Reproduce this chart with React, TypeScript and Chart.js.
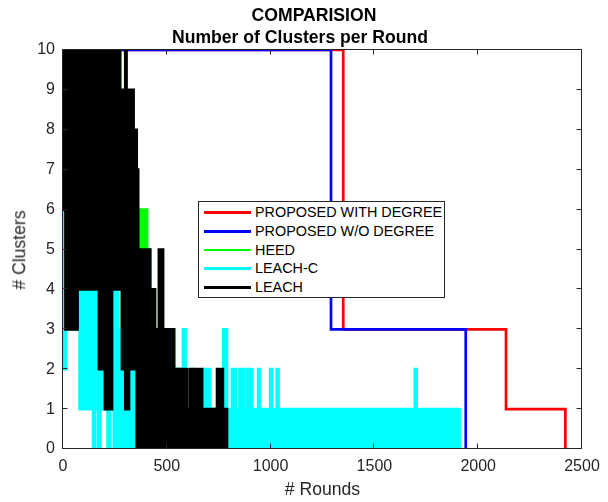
import React, { useEffect, useRef } from "react";
import { Chart, registerables } from "chart.js";

Chart.register(...registerables);

const FONT = "'Liberation Sans', Arial, Helvetica, sans-serif";
const AXIS_COLOR = "#262626";

const titleLines = ["COMPARISION", "Number of Clusters per Round"];
const xAxisLabel = "# Rounds";
const yAxisLabel = "# Clusters";

const xTickValues = [0, 500, 1000, 1500, 2000, 2500];
const yTickValues = [0, 1, 2, 3, 4, 5, 6, 7, 8, 9, 10];

const seriesNames = ["PROPOSED WITH DEGREE", "PROPOSED W/O DEGREE", "HEED", "LEACH-C", "LEACH"];
const seriesColors = ["#ff0000", "#0000ff", "#00ff00", "#00ffff", "#000000"];

// PROPOSED WITH DEGREE: value holds from the given round onward
const withDegreeRounds = [0, 1350, 2134, 2420];
const withDegreeClusters = [10, 3, 1, 0];

// PROPOSED W/O DEGREE
const withoutDegreeRounds = [0, 1291, 1940];
const withoutDegreeClusters = [10, 3, 0];

// HEED: per-round range (upper / lower values of the oscillation)
const heedRounds = [0, 12, 70, 170, 236, 275, 284, 340, 355, 362, 405, 420, 443, 535, 580, 780];
const heedMax = [10, 10, 10, 10, 10, 8, 8, 7, 6, 6, 5, 4, 3, 2, 1, 0];
const heedMin = [6, 3, 4, 2, 4, 4, 2, 2, 0, 0, 0, 0, 0, 0, 0, 0];

// LEACH-C
const leachCRounds = [
  0, 8, 15, 80, 145, 155, 170, 180, 215, 225, 245, 266, 284, 578, 590, 622, 628, 675, 685, 698,
  708, 772, 790, 814, 820, 826, 832, 850, 856, 868, 874, 888, 894, 906, 912, 940, 948, 998, 1006,
  1030, 1038, 1695, 1703, 1910,
];
const leachCMax = [
  7, 6, 5, 5, 5, 5, 5, 5, 4, 4, 4, 3, 2, 3, 1, 2, 1, 2, 1, 2,
  1, 3, 1, 2, 1, 2, 1, 2, 1, 2, 1, 2, 1, 2, 1, 2, 1, 2, 1,
  2, 1, 2, 1, 0,
];
const leachCMin = [
  2, 2, 3, 1, 0, 1, 0, 1, 0, 1, 0, 0, 0, 0, 0, 0, 0, 0, 0, 0,
  0, 0, 0, 0, 0, 0, 0, 0, 0, 0, 0, 0, 0, 0, 0, 0, 0, 0, 0,
  0, 0, 0, 0, 0,
];

// LEACH
const leachRounds = [
  0, 12, 70, 173, 193, 202, 217, 226, 236, 275, 284, 295, 300, 306, 318, 340, 355, 362, 420, 443,
  462, 482, 535, 580, 588, 598, 612, 622, 635, 670, 742, 770, 790,
];
const leachMax = [
  10, 10, 10, 10, 10, 10, 10, 10, 10, 9, 9, 9, 10, 9, 9, 8, 7, 5, 4, 3,
  5, 3, 2, 1, 2, 1, 2, 1, 2, 1, 2, 1, 0,
];
const leachMin = [
  6, 3, 4, 2, 4, 1, 4, 1, 4, 4, 2, 2, 1, 1, 2, 2, 0, 0, 0, 0,
  0, 0, 0, 0, 0, 0, 0, 0, 0, 0, 0, 0, 0,
];

const LINE_W = 2.7;

const pts = (xs: number[], ys: number[]) => xs.map((x, i) => ({ x, y: ys[i] }));

const makeLine = (label: string, color: string, data: any[], order: number, extra: any = {}) => ({
  label,
  data,
  borderColor: color,
  backgroundColor: color,
  borderWidth: LINE_W,
  pointRadius: 0,
  pointHoverRadius: 0,
  stepped: true,
  fill: false,
  order,
  ...extra,
});

const decorPlugin = {
  id: "matlabDecor",
  afterDraw(chart: any) {
    const ctx = chart.ctx;
    const { left, right, top, bottom } = chart.chartArea;
    const xs = chart.scales.x;
    const ys = chart.scales.y;
    ctx.save();
    ctx.strokeStyle = AXIS_COLOR;
    ctx.lineWidth = 1;
    ctx.beginPath();
    ctx.moveTo(left - 0.5, top - 0.5);
    ctx.lineTo(right - 0.5, top - 0.5);
    ctx.lineTo(right - 0.5, bottom - 0.5);
    ctx.lineTo(left - 0.5, bottom - 0.5);
    ctx.closePath();
    ctx.stroke();
    const tl = 5;
    ctx.beginPath();
    xTickValues.forEach((v) => {
      const px = Math.round(xs.getPixelForValue(v)) - 0.5;
      ctx.moveTo(px, bottom - 0.5);
      ctx.lineTo(px, bottom - 0.5 - tl);
      ctx.moveTo(px, top - 0.5);
      ctx.lineTo(px, top - 0.5 + tl);
    });
    yTickValues.forEach((v) => {
      const py = Math.round(ys.getPixelForValue(v)) - 0.5;
      ctx.moveTo(left - 0.5, py);
      ctx.lineTo(left - 0.5 + tl, py);
      ctx.moveTo(right - 0.5, py);
      ctx.lineTo(right - 0.5 - tl, py);
    });
    ctx.stroke();
    ctx.restore();
  },
};

export default function App() {
  const canvasRef = useRef<HTMLCanvasElement | null>(null);

  useEffect(() => {
    const datasets = [
      makeLine(seriesNames[0], seriesColors[0], pts(withDegreeRounds, withDegreeClusters), 4),
      makeLine(seriesNames[1], seriesColors[1], pts(withoutDegreeRounds, withoutDegreeClusters), 3),
      makeLine(seriesNames[2], seriesColors[2], pts(heedRounds, heedMax), 2, { fill: "+1" }),
      makeLine(seriesNames[2] + " low", seriesColors[2], pts(heedRounds, heedMin), 2),
      makeLine(seriesNames[3], seriesColors[3], pts(leachCRounds, leachCMax), 1, { fill: "+1" }),
      makeLine(seriesNames[3] + " low", seriesColors[3], pts(leachCRounds, leachCMin), 1),
      makeLine(seriesNames[4], seriesColors[4], pts(leachRounds, leachMax), 0, { fill: "+1" }),
      makeLine(seriesNames[4] + " low", seriesColors[4], pts(leachRounds, leachMin), 0),
    ];
    const chart = new Chart(canvasRef.current as HTMLCanvasElement, {
      type: "line",
      data: { datasets } as any,
      options: {
        animation: false,
        responsive: false,
        devicePixelRatio: 1,
        events: [],
        layout: { padding: { left: 0, top: 50, right: 26, bottom: 0 } },
        plugins: {
          legend: { display: false },
          title: { display: false },
          tooltip: { enabled: false },
        },
        scales: {
          x: {
            type: "linear",
            min: 0,
            max: 2500,
            afterBuildTicks: (s: any) => {
              s.ticks = xTickValues.map((value) => ({ value }));
            },
            afterFit: (s: any) => {
              s.height = 53;
            },
            ticks: {
              autoSkip: false,
              maxRotation: 0,
              minRotation: 0,
              padding: 8,
              color: AXIS_COLOR,
              font: { family: FONT, size: 16 },
              callback: (v: any) => String(v),
            },
            grid: { display: false, drawTicks: false },
            border: { display: false },
          },
          y: {
            type: "linear",
            min: 0,
            max: 10,
            afterBuildTicks: (s: any) => {
              s.ticks = yTickValues.map((value) => ({ value }));
            },
            afterFit: (s: any) => {
              s.width = 63;
            },
            ticks: {
              autoSkip: false,
              padding: 8,
              color: AXIS_COLOR,
              font: { family: FONT, size: 16 },
              callback: (v: any) => String(v),
            },
            grid: { display: false, drawTicks: false },
            border: { display: false },
          },
        },
      } as any,
      plugins: [decorPlugin],
    });
    return () => chart.destroy();
  }, []);

  const textBase: React.CSSProperties = {
    position: "absolute",
    fontFamily: FONT,
    lineHeight: 1,
    whiteSpace: "nowrap",
  };

  return (
    <div style={{ position: "fixed", left: 0, top: 0, width: 608, height: 502, background: "#fff" }}>
      <canvas ref={canvasRef} width={608} height={502} style={{ position: "absolute", left: 0, top: 0, width: 608, height: 502 }} />
      <div style={{ ...textBase, left: 114, width: 400, top: 7, textAlign: "center", fontSize: 17.6, fontWeight: "bold", color: "#000" }}>
        {titleLines[0]}
      </div>
      <div style={{ ...textBase, left: 100, width: 400, top: 29, textAlign: "center", fontSize: 17.6, fontWeight: "bold", color: "#000" }}>
        {titleLines[1]}
      </div>
      <div style={{ ...textBase, left: 122.5, width: 400, top: 481, textAlign: "center", fontSize: 17.6, color: AXIS_COLOR }}>
        {xAxisLabel}
      </div>
      <div
        style={{
          ...textBase,
          left: 20,
          top: 249.5,
          fontSize: 17.6,
          color: AXIS_COLOR,
          transform: "translate(-50%, -50%) rotate(-90deg)",
        }}
      >
        {yAxisLabel}
      </div>
      <div
        style={{
          position: "absolute",
          left: 198,
          top: 201,
          width: 247,
          height: 97,
          boxSizing: "border-box",
          border: `1px solid ${AXIS_COLOR}`,
          background: "#fff",
        }}
      >
        {seriesNames.map((name, i) => (
          <div key={name} style={{ position: "absolute", left: 0, top: 1.1 + i * 18.75, height: 18.75, width: 245 }}>
            <div
              style={{
                position: "absolute",
                left: 4.5,
                width: 47,
                top: 9.375 - LINE_W / 2,
                height: LINE_W,
                background: seriesColors[i],
              }}
            />
            <div
              style={{
                position: "absolute",
                left: 56,
                top: 0,
                fontFamily: FONT,
                fontSize: 14.4,
                lineHeight: "18.75px",
                color: "#000",
                whiteSpace: "nowrap",
              }}
            >
              {name}
            </div>
          </div>
        ))}
      </div>
    </div>
  );
}
